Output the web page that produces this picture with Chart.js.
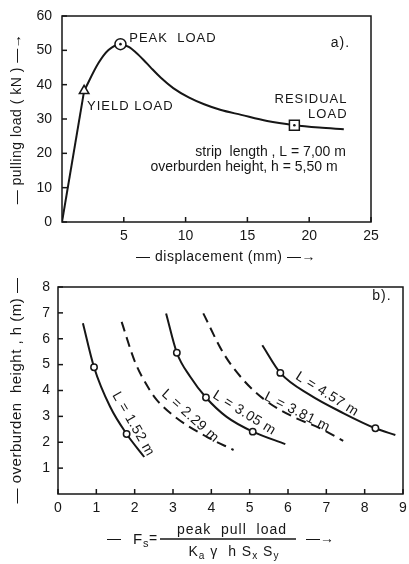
<!DOCTYPE html>
<html>
<head>
<meta charset="utf-8">
<script src="https://cdn.jsdelivr.net/npm/chart.js@4.4.1/dist/chart.umd.min.js"></script>
<style>
  html, body { margin: 0; padding: 0; background: #fff; }
  #wrap { position: relative; width: 409px; height: 564px; }
  #top { position: absolute; left: 0; top: 0; }
  #bot { position: absolute; left: 0; top: 270px; }
</style>
</head>
<body>
<div id="wrap">
  <canvas id="top" width="409" height="270"></canvas>
  <canvas id="bot" width="409" height="294"></canvas>
</div>
<script>
// ========== DATA a) pulling load vs displacement ==========
const dispTicks = [5, 10, 15, 20, 25];
const loadTicks = [0, 10, 20, 30, 40, 50, 60];

const riseX = [0, 1.79];
const riseY = [0, 38.2];
const curveX = [1.79, 2.95, 3.76, 4.73, 5.4, 6.0, 6.6, 7.2, 8.0, 9.0, 10.25, 11.5, 12.8, 14.5, 16.6, 18.8, 20.8, 22.8];
const curveY = [38.2, 46.3, 50.1, 51.8, 51.0, 49.3, 47.2, 44.9, 42.0, 39.0, 36.3, 34.3, 32.7, 31.2, 29.4, 28.2, 27.5, 27.0];

const yieldPt = [1.79, 38.2];
const peakPt = [4.73, 51.8];
const residualPt = [18.8, 28.2];

// ========== DATA b) overburden height vs Fs ==========
const fsTicks = [0, 1, 2, 3, 4, 5, 6, 7, 8, 9];
const heightTicks = [1, 2, 3, 4, 5, 6, 7, 8];

const l152X = [0.65, 0.94, 1.36, 1.79, 2.25];
const l152Y = [6.6, 4.9, 3.37, 2.32, 1.43];
const l229X = [1.66, 2.01, 2.4, 2.58, 3.1, 3.88, 4.58];
const l229Y = [6.65, 5.1, 4.0, 3.63, 2.93, 2.21, 1.7];
const l305X = [2.82, 3.1, 3.45, 3.86, 4.4, 5.08, 5.93];
const l305Y = [6.98, 5.46, 4.53, 3.73, 2.98, 2.41, 1.93];
const l381X = [3.79, 4.32, 4.84, 5.4, 6.14, 6.84, 7.44];
const l381Y = [6.98, 5.43, 4.4, 3.63, 2.98, 2.54, 2.05];
const l457X = [5.33, 5.8, 6.58, 7.45, 8.28, 8.8];
const l457Y = [5.75, 4.68, 3.82, 3.12, 2.54, 2.28];

// test points (open circles)
const markX = [0.94, 1.79, 3.1, 3.86, 5.08, 5.8, 8.28];
const markY = [4.9, 2.32, 5.46, 3.73, 2.41, 4.68, 2.54];

// -------------- UTILS ----------------
const INK = "#161616";
const FONT = '"Liberation Sans", Arial, sans-serif';
function pts(xs, ys) { return xs.map((x, i) => ({ x, y: ys[i] })); }
function font(size) { return size + "px " + FONT; }

function lineSet(xs, ys, dash) {
  return {
    data: pts(xs, ys), showLine: true, cubicInterpolationMode: "monotone",
    borderColor: INK, borderWidth: 2, borderDash: dash || [], pointRadius: 0, order: 2
  };
}

function markSet(list, style, r, order) {
  return {
    data: list, pointStyle: style, pointRadius: r, backgroundColor: "#fff",
    borderColor: INK, borderWidth: 1.5, order: order
  };
}

// frame, inward ticks and text notes
function makeInk(notes, extra) {
  return {
    id: "ink",
    afterDraw(chart) {
      const { ctx, chartArea: a, scales: { x, y } } = chart;
      ctx.save();
      ctx.strokeStyle = INK;
      ctx.fillStyle = INK;
      ctx.lineWidth = 1.5;
      ctx.strokeRect(a.left, a.top, a.right - a.left, a.bottom - a.top);
      x.ticks.forEach(t => {
        const px = x.getPixelForValue(t.value);
        ctx.beginPath(); ctx.moveTo(px, a.bottom); ctx.lineTo(px, a.bottom - 5); ctx.stroke();
      });
      y.ticks.forEach(t => {
        const py = y.getPixelForValue(t.value);
        ctx.beginPath(); ctx.moveTo(a.left, py); ctx.lineTo(a.left + 5, py); ctx.stroke();
      });
      notes.forEach(n => {
        ctx.save();
        ctx.font = font(n.size || 13);
        ctx.letterSpacing = (n.spacing || 0) + "px";
        ctx.textAlign = n.align || "left";
        ctx.textBaseline = "middle";
        ctx.translate(x.getPixelForValue(n.x), y.getPixelForValue(n.y));
        ctx.rotate((n.angle || 0) * Math.PI / 180);
        ctx.fillText(n.text, 0, 0);
        ctx.restore();
      });
      if (extra) extra(ctx, a);
      ctx.restore();
    }
  };
}

function vTitle(ctx, text, cx, cy, size, spacing) {
  ctx.save();
  ctx.font = font(size);
  ctx.letterSpacing = spacing + "px";
  ctx.textAlign = "center";
  ctx.textBaseline = "middle";
  ctx.translate(cx, cy);
  ctx.rotate(-Math.PI / 2);
  ctx.fillText(text, 0, 0);
  ctx.restore();
}

function drawRuns(ctx, runs, cx, y, size) {
  ctx.textAlign = "left";
  ctx.textBaseline = "middle";
  let w = 0;
  runs.forEach(([t, sub]) => { ctx.font = font(sub ? size * 0.72 : size); w += ctx.measureText(t).width; });
  let x = cx - w / 2;
  runs.forEach(([t, sub]) => {
    ctx.font = font(sub ? size * 0.72 : size);
    ctx.fillText(t, x, sub ? y + 4 : y);
    x += ctx.measureText(t).width;
  });
}

function axes(xMin, xMax, xTicks, yMin, yMax, yTicks, xH, yW, xPad, yPad) {
  const tickFont = { family: FONT, size: 14 };
  return {
    x: {
      type: "linear", min: xMin, max: xMax,
      grid: { display: false, drawTicks: false }, border: { display: false },
      afterBuildTicks: s => { s.ticks = xTicks.map(v => ({ value: v })); },
      afterFit: s => { s.height = xH; s.paddingLeft = 0; s.paddingRight = 0; },
      ticks: { font: tickFont, color: INK, padding: xPad, maxRotation: 0, autoSkip: false }
    },
    y: {
      type: "linear", min: yMin, max: yMax,
      grid: { display: false, drawTicks: false }, border: { display: false },
      afterBuildTicks: s => { s.ticks = yTicks.map(v => ({ value: v })); },
      afterFit: s => { s.width = yW; s.paddingTop = 0; s.paddingBottom = 0; },
      ticks: { font: tickFont, color: INK, padding: yPad, autoSkip: false }
    }
  };
}

const baseOpts = {
  responsive: false, animation: false, events: [],
  plugins: { legend: { display: false }, tooltip: { enabled: false } }
};

// ========== CHART a) ==========
const notesA = [
  { text: "PEAK  LOAD", x: 5.44, y: 53.6, spacing: 1 },
  { text: "a).", x: 21.75, y: 52.2, size: 14, spacing: 1 },
  { text: "YIELD LOAD", x: 2.03, y: 33.8, spacing: 1 },
  { text: "RESIDUAL", x: 23.1, y: 35.6, align: "right", spacing: 1 },
  { text: "LOAD", x: 23.1, y: 31.2, align: "right", spacing: 1 },
  { text: "strip  length , L = 7,00 m", x: 22.97, y: 20.4, align: "right", size: 14 },
  { text: "overburden height, h = 5,50 m", x: 22.3, y: 16.0, align: "right", size: 14 }
];

new Chart(document.getElementById("top"), {
  type: "scatter",
  data: {
    datasets: [
      { data: [peakPt, residualPt].map(p => ({ x: p[0], y: p[1] })), pointRadius: 1.3,
        backgroundColor: INK, borderWidth: 0, order: 0 },
      markSet([{ x: peakPt[0], y: peakPt[1] }], "circle", 5.5, 1),
      markSet([{ x: yieldPt[0], y: yieldPt[1] }], "triangle", 5.5, 1),
      markSet([{ x: residualPt[0], y: residualPt[1] }], "rect", 7, 1),
      Object.assign(lineSet(riseX, riseY), { cubicInterpolationMode: "default" }),
      lineSet(curveX, curveY)
    ]
  },
  options: Object.assign({}, baseOpts, {
    layout: { padding: { top: 16, right: 38, left: 0, bottom: 0 } },
    scales: axes(0, 25, dispTicks, 0, 60, loadTicks, 48, 62, 6, 10)
  }),
  plugins: [makeInk(notesA, (ctx, a) => {
    vTitle(ctx, "— pulling load ( kN ) —→", 17, (a.top + a.bottom) / 2, 14, 0.5);
    ctx.font = font(14);
    ctx.letterSpacing = "0.5px";
    ctx.textAlign = "center";
    ctx.textBaseline = "middle";
    ctx.fillText("— displacement (mm) —→", a.left + 164, a.bottom + 35);
  })]
});

// ========== CHART b) ==========
const notesB = [
  { text: "b).", x: 8.2, y: 7.64, size: 14, spacing: 1 },
  { text: "L = 1.52 m", x: 1.96, y: 2.7, angle: 60, align: "center", size: 14, spacing: 0.5 },
  { text: "L = 2.29 m", x: 3.45, y: 3.01, angle: 42, align: "center", size: 14, spacing: 0.5 },
  { text: "L = 3.05 m", x: 4.86, y: 3.13, angle: 32, align: "center", size: 14, spacing: 0.5 },
  { text: "L = 3.81 m", x: 6.24, y: 3.17, angle: 27, align: "center", size: 14, spacing: 0.5 },
  { text: "L = 4.57 m", x: 7.02, y: 3.86, angle: 32, align: "center", size: 14, spacing: 0.5 }
];

new Chart(document.getElementById("bot"), {
  type: "scatter",
  data: {
    datasets: [
      markSet(pts(markX, markY), "circle", 3.2, 0),
      lineSet(l152X, l152Y),
      lineSet(l229X, l229Y, [10, 6]),
      lineSet(l305X, l305Y),
      lineSet(l381X, l381Y, [10, 6]),
      lineSet(l457X, l457Y)
    ]
  },
  options: Object.assign({}, baseOpts, {
    layout: { padding: { top: 17, right: 6, left: 0, bottom: 0 } },
    scales: axes(0, 9, fsTicks, 0, 8, heightTicks, 70, 58, 6, 8)
  }),
  plugins: [makeInk(notesB, (ctx, a) => {
    vTitle(ctx, "— overburden  height , h (m) —", 17, (a.top + a.bottom) / 2, 15, 0.5);
    const b = a.bottom;
    ctx.letterSpacing = "0px";
    ctx.textAlign = "left";
    ctx.textBaseline = "middle";
    ctx.font = font(14);
    ctx.fillText("—", 107, b + 45);
    ctx.font = font(15);
    ctx.fillText("F", 133, b + 46);
    ctx.font = font(11);
    ctx.fillText("s", 143, b + 50);
    ctx.font = font(14);
    ctx.fillText("=", 149, b + 45);
    ctx.fillText("—→", 306, b + 45);
    ctx.lineWidth = 1.3;
    ctx.beginPath(); ctx.moveTo(160, b + 45); ctx.lineTo(296, b + 45); ctx.stroke();
    ctx.letterSpacing = "1px";
    drawRuns(ctx, [["peak  pull  load", false]], 232, b + 36, 14);
    drawRuns(ctx, [["K", false], ["a", true], [" γ  h ", false], ["S", false], ["x", true],
                   [" S", false], ["y", true]], 234, b + 58, 14);
  })]
});
</script>
</body>
</html>
